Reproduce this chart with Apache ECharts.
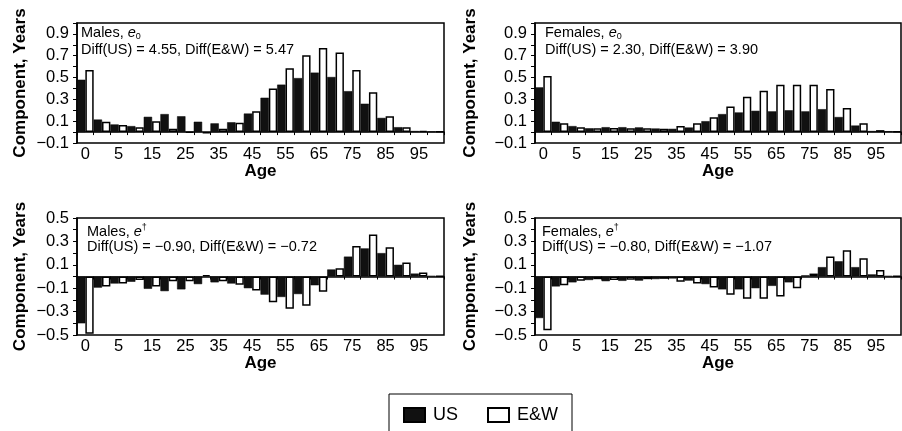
<!DOCTYPE html>
<html>
<head>
<meta charset="utf-8">
<script src="https://cdn.jsdelivr.net/npm/echarts@6/dist/echarts.min.js"></script>
<style>
html,body{margin:0;padding:0;background:#fff;}
#c{width:902px;height:431px;}
</style>
</head>
<body>
<div id="c"></div>
<script>
// Age groups (0, 1-4, 5-9, ..., 100+)
const ages = ['0','1','5','10','15','20','25','30','35','40','45','50','55','60','65','70','75','80','85','90','95','100'];
const seriesNames = ['US', 'E&W'];

// Males, e0
const maleE0US = [0.48, 0.115, 0.07, 0.055, 0.14, 0.165, 0.145, 0.095, 0.08, 0.09, 0.17, 0.315, 0.435, 0.495, 0.545, 0.505, 0.375, 0.26, 0.13, 0.045, 0.01, 0.005];
const maleE0EW = [0.57, 0.095, 0.065, 0.045, 0.10, 0.03, -0.005, -0.01, 0.03, 0.085, 0.19, 0.40, 0.585, 0.705, 0.77, 0.73, 0.57, 0.365, 0.145, 0.045, 0.01, 0.005];
// Females, e0
const femaleE0US = [0.41, 0.095, 0.055, 0.035, 0.045, 0.045, 0.043, 0.033, 0.03, 0.042, 0.10, 0.165, 0.18, 0.195, 0.19, 0.20, 0.19, 0.21, 0.138, 0.06, 0.01, 0.008];
const femaleE0EW = [0.515, 0.08, 0.045, 0.035, 0.037, 0.035, 0.035, 0.03, 0.055, 0.08, 0.135, 0.235, 0.325, 0.38, 0.435, 0.435, 0.435, 0.395, 0.22, 0.08, 0.018, 0.008];
// Males, e-dagger
const maleEdUS = [-0.40, -0.095, -0.06, -0.045, -0.105, -0.125, -0.11, -0.065, -0.05, -0.06, -0.10, -0.155, -0.175, -0.15, -0.075, 0.06, 0.17, 0.24, 0.20, 0.10, 0.025, 0.005];
const maleEdEW = [-0.49, -0.085, -0.06, -0.03, -0.085, -0.04, -0.04, 0.012, -0.04, -0.07, -0.12, -0.22, -0.275, -0.25, -0.13, 0.07, 0.26, 0.36, 0.25, 0.12, 0.035, 0.005];
// Females, e-dagger
const femaleEdUS = [-0.355, -0.085, -0.05, -0.03, -0.04, -0.037, -0.035, -0.022, -0.017, -0.035, -0.065, -0.11, -0.11, -0.10, -0.08, -0.05, 0.01, 0.08, 0.13, 0.08, 0.018, 0.005];
const femaleEdEW = [-0.46, -0.075, -0.037, -0.023, -0.03, -0.028, -0.023, -0.02, -0.045, -0.06, -0.095, -0.155, -0.19, -0.19, -0.17, -0.10, 0.025, 0.17, 0.225, 0.155, 0.055, 0.006];

// Panel annotations
const panelSex = ['Males, ', 'Females, ', 'Males, ', 'Females, '];
const panelMark = ['sub', 'sub', 'sup', 'sup'];
const panelMarkText = ['0', '0', '\u2020', '\u2020'];
const panelDiff = [
  'Diff(US) = 4.55, Diff(E&W) = 5.47',
  'Diff(US) = 2.30, Diff(E&W) = 3.90',
  'Diff(US) = \u22120.90, Diff(E&W) = \u22120.72',
  'Diff(US) = \u22120.80, Diff(E&W) = \u22121.07'
];
const yRanges = [[-0.1, 1.0], [-0.1, 1.0], [-0.5, 0.5], [-0.5, 0.5]];
const panelData = [[maleE0US, maleE0EW], [femaleE0US, femaleE0EW], [maleEdUS, maleEdEW], [femaleEdUS, femaleEdEW]];

const FONT = 'Liberation Sans';
const grids = [
  {left: 77, top: 23, width: 367, height: 120},
  {left: 535, top: 23, width: 366, height: 120},
  {left: 77, top: 218, width: 367, height: 117},
  {left: 535, top: 218, width: 366, height: 117}
];
const textPos = [
  {x: 81, y1: 33, y2: 50},
  {x: 545, y1: 33, y2: 50},
  {x: 87, y1: 232, y2: 247},
  {x: 542, y1: 232, y2: 247}
];

const chart = echarts.init(document.getElementById('c'), null, {renderer: 'canvas'});

const grid = [], xAxis = [], yAxis = [], series = [], graphic = [];
grids.forEach((g, i) => {
  grid.push(Object.assign({show: true, borderColor: '#000', borderWidth: 1.5, backgroundColor: 'transparent'}, g));
  // label axis at the bottom
  xAxis.push({
    type: 'category', gridIndex: i, data: ages, position: 'bottom',
    axisLine: {show: false, onZero: false}, axisTick: {show: false},
    axisLabel: {interval: 1, margin: 3, fontFamily: FONT, fontSize: 16.5, color: '#000'}
  });
  // zero line axis
  xAxis.push({
    type: 'category', gridIndex: i, data: ages, position: 'top',
    axisLine: {show: true, onZero: true, lineStyle: {color: '#000', width: 1.5}},
    axisTick: {show: true, inside: true, interval: 0, length: 3, lineStyle: {color: '#000', width: 1}},
    axisLabel: {show: false}
  });
  yAxis.push({
    type: 'value', gridIndex: i, min: yRanges[i][0], max: yRanges[i][1], interval: 0.1,
    axisLine: {show: true, lineStyle: {color: '#000', width: 1.5}},
    axisTick: {show: true, length: 4, lineStyle: {color: '#000', width: 1}},
    splitLine: {show: false},
    axisLabel: {
      margin: 8, fontFamily: FONT, fontSize: 16.5, color: '#000',
      formatter: v => {
        const n = Math.round(v * 10);
        if (Math.abs(n % 2) !== 1) return '';
        return (n < 0 ? '\u2212' : '') + (Math.abs(n) / 10).toFixed(1);
      }
    }
  });
  const [us, ew] = panelData[i];
  series.push({
    name: seriesNames[0], type: 'bar', xAxisIndex: i * 2 + 1, yAxisIndex: i, data: us,
    barGap: '0%', barCategoryGap: '0%',
    itemStyle: {color: '#111', borderColor: '#000', borderWidth: 0.5}
  });
  series.push({
    name: seriesNames[1], type: 'bar', xAxisIndex: i * 2 + 1, yAxisIndex: i, data: ew,
    barGap: '0%', barCategoryGap: '0%',
    itemStyle: {color: '#fff', borderColor: '#000', borderWidth: 1.5}
  });

  // annotation texts
  const tp = textPos[i];
  const markStyle = panelMark[i] === 'sub'
    ? {fontFamily: FONT, fontSize: 9, lineHeight: 9, verticalAlign: 'bottom', fill: '#000'}
    : {fontFamily: FONT, fontSize: 9, lineHeight: 9, verticalAlign: 'top', fill: '#000'};
  graphic.push({
    type: 'text', x: tp.x, y: tp.y1, z: 100,
    style: {
      text: '{n|' + panelSex[i] + '}{i|e}{m|' + panelMarkText[i] + '}',
      x: 0, y: 0, verticalAlign: 'middle',
      rich: {
        n: {fontFamily: FONT, fontSize: 14.5, lineHeight: 17, fill: '#000'},
        i: {fontFamily: FONT, fontSize: 14.5, fontStyle: 'italic', lineHeight: 17, fill: '#000'},
        m: markStyle
      }
    }
  });
  graphic.push({
    type: 'text', x: tp.x, y: tp.y2, z: 100,
    style: {text: panelDiff[i], x: 0, y: 0, verticalAlign: 'middle', fontFamily: FONT, fontSize: 14.5, fill: '#000'}
  });
  // Age axis name
  graphic.push({
    type: 'text', x: g.left + g.width / 2, y: g.top + g.height + 28,
    style: {text: 'Age', x: 0, y: 0, align: 'center', verticalAlign: 'middle', fontFamily: FONT, fontSize: 17, fontWeight: 'bold', fill: '#000'}
  });
  // Y axis name
  graphic.push({
    type: 'text', x: (i % 2 === 0 ? 20 : 470), y: g.top + g.height / 2, rotation: Math.PI / 2,
    style: {text: 'Component, Years', x: 0, y: 0, align: 'center', verticalAlign: 'middle', fontFamily: FONT, fontSize: 17, fontWeight: 'bold', fill: '#000'}
  });
});

chart.setOption({
  animation: false,
  backgroundColor: '#fff',
  grid, xAxis, yAxis, series, graphic,
  legend: {
    data: seriesNames, left: 389, top: 394, orient: 'horizontal',
    padding: [12, 14, 14, 14], itemWidth: 21, itemHeight: 14, itemGap: 29,
    borderColor: '#000', borderWidth: 1, icon: 'rect',
    textStyle: {fontFamily: FONT, fontSize: 18, color: '#000', padding: [0, 0, 0, 3]},
    selectedMode: false
  }
});
</script>
</body>
</html>
